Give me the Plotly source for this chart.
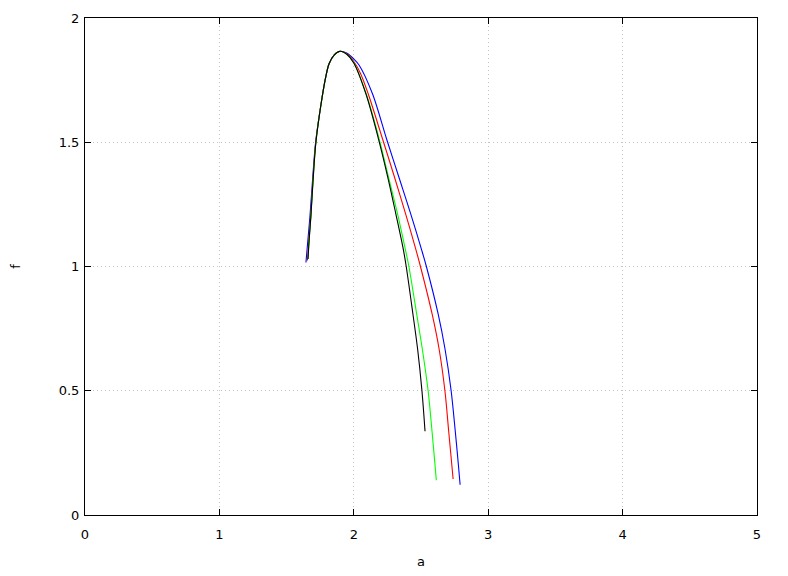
import plotly.graph_objects as go

# Black curve (a, f)
black_a = [1.659, 1.668, 1.681, 1.696, 1.718, 1.761, 1.791, 1.816, 1.855, 1.898, 1.95, 2.0, 2.09, 2.184, 2.256, 2.313, 2.368, 2.390, 2.440, 2.475, 2.507, 2.530]
black_f = [1.03, 1.11, 1.204, 1.339, 1.5, 1.67, 1.762, 1.816, 1.852, 1.866, 1.853, 1.819, 1.695, 1.513, 1.352, 1.211, 1.07, 1.0, 0.808, 0.667, 0.5, 0.337]

# Green curve
green_a = [1.659, 1.668, 1.681, 1.696, 1.718, 1.761, 1.791, 1.816, 1.855, 1.898, 1.95, 2.0, 2.092, 2.189, 2.262, 2.326, 2.383, 2.41, 2.468, 2.51, 2.553, 2.582, 2.604, 2.614]
green_f = [1.03, 1.11, 1.204, 1.339, 1.5, 1.67, 1.762, 1.816, 1.852, 1.866, 1.853, 1.82, 1.695, 1.513, 1.352, 1.211, 1.07, 1.0, 0.808, 0.667, 0.5, 0.337, 0.203, 0.14]

# Red curve
red_a = [1.655, 1.666, 1.680, 1.695, 1.717, 1.761, 1.791, 1.816, 1.855, 1.898, 1.95, 2.0, 2.05, 2.107, 2.214, 2.307, 2.386, 2.461, 2.496, 2.583, 2.635, 2.678, 2.706, 2.729, 2.739]
red_f = [1.024, 1.11, 1.204, 1.339, 1.5, 1.67, 1.762, 1.816, 1.852, 1.866, 1.855, 1.825, 1.777, 1.695, 1.513, 1.352, 1.211, 1.07, 1.0, 0.808, 0.667, 0.5, 0.337, 0.203, 0.145]

# Blue curve
blue_a = [1.644, 1.659, 1.674, 1.692, 1.716, 1.761, 1.791, 1.816, 1.855, 1.898, 1.95, 2.0, 2.04, 2.139, 2.244, 2.340, 2.424, 2.503, 2.540, 2.628, 2.679, 2.724, 2.755, 2.778, 2.791]
blue_f = [1.016, 1.11, 1.204, 1.339, 1.5, 1.67, 1.762, 1.816, 1.852, 1.866, 1.858, 1.835, 1.810, 1.695, 1.513, 1.352, 1.211, 1.07, 1.0, 0.808, 0.667, 0.501, 0.337, 0.203, 0.122]

series = [
    (black_a, black_f, "black"),
    (green_a, green_f, "#00ff00"),
    (red_a, red_f, "#ff0000"),
    (blue_a, blue_f, "#0000ff"),
]

fig = go.Figure()
for a, f, c in reversed(series):
    fig.add_trace(go.Scatter(x=a, y=f, mode="lines",
                             line=dict(color=c, width=1.1, shape="spline", smoothing=0.9),
                             showlegend=False, hoverinfo="skip"))

axis_common = dict(
    showline=True, linecolor="black", linewidth=1, mirror="ticks",
    ticks="inside", ticklen=6, tickcolor="black",
    showgrid=True, gridcolor="#c4c4c4", griddash="1px,3px", gridwidth=1,
    zeroline=False, automargin=False,
    tickfont=dict(family="DejaVu Sans", size=13, color="black"),
)

fig.update_layout(
    width=780, height=568,
    margin=dict(l=77, r=31, t=10, b=61),
    paper_bgcolor="white", plot_bgcolor="white",
    font=dict(family="DejaVu Sans", size=13, color="black"),
    xaxis=dict(range=[0, 5], dtick=1, tick0=0, ticklabelstandoff=7,
               title=dict(text="a", standoff=16, font=dict(size=13, color="black")),
               **axis_common),
    yaxis=dict(range=[0, 2], dtick=0.5, tick0=0, ticklabelstandoff=2,
               title=dict(text="f", standoff=35, font=dict(size=13, color="black")),
               **axis_common),
)

fig.write_html("out.html")
